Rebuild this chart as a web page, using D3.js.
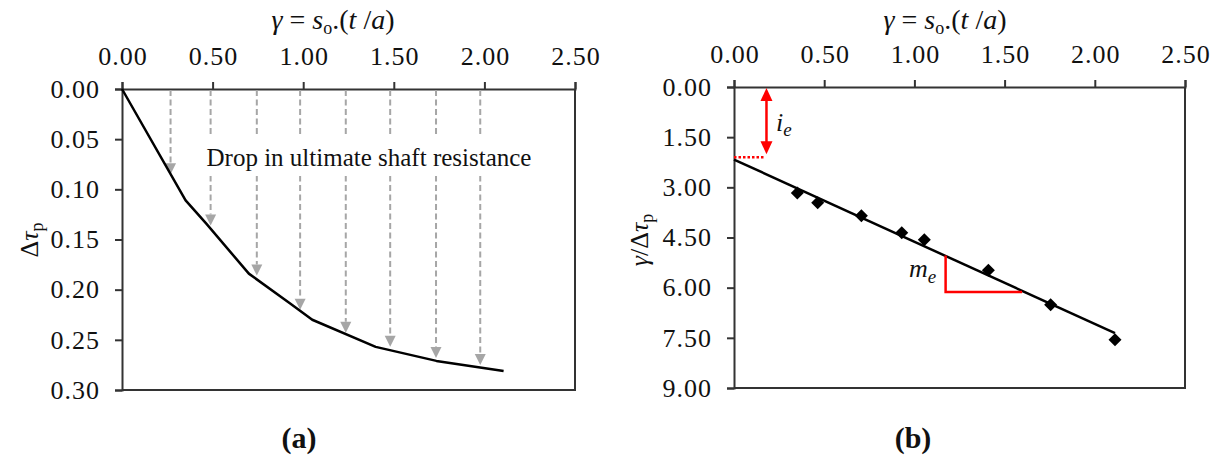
<!DOCTYPE html>
<html>
<head>
<meta charset="utf-8">
<script src="https://cdn.jsdelivr.net/npm/d3@7"></script>
<style>
  html, body { margin: 0; padding: 0; background: #fff; }
  svg { display: block; }
  text { font-family: "Liberation Serif", "Times New Roman", serif; fill: #111; }
</style>
</head>
<body>
<svg id="chart" width="1217" height="460"></svg>
<script>
// ---- data ----
// panel (a): normalised shaft resistance drop vs. gamma
const gammaCurve = [0, 0.351, 0.464, 0.70, 0.93, 1.05, 1.40, 1.735, 2.106];
const dTau       = [0, 0.111, 0.134, 0.184, 0.214, 0.230, 0.257, 0.271, 0.281];
// dashed drop arrows (start at the axis, end on the curve)
const arrowGamma = [0.268, 0.489, 0.744, 0.983, 1.235, 1.48, 1.733, 1.977];
const arrowEnd   = [0.085, 0.136, 0.186, 0.220, 0.243, 0.257, 0.268, 0.275];
// panel (b): gamma / dTau vs. gamma with linear fit
const gammaPts = [0.351, 0.464, 0.706, 0.93, 1.055, 1.41, 1.755, 2.112];
const ratioPts = [3.17, 3.46, 3.85, 4.36, 4.57, 5.48, 6.51, 7.56];
const fitGamma = [0, 2.112];
const fitRatio = [2.17, 7.36];
// intercept annotation (i_e) and slope triangle (m_e)
const ieGamma = 0.18, ieLevel = 2.10;
const slopeGamma = [1.173, 1.173, 1.597];
const slopeRatio = [5.04, 6.13, 6.13];
// tick values
const xTicks  = [0, 0.5, 1.0, 1.5, 2.0, 2.5];
const yTicksA = [0, 0.05, 0.10, 0.15, 0.20, 0.25, 0.30];
const yTicksB = [0, 1.5, 3.0, 4.5, 6.0, 7.5, 9.0];

const svg = d3.select("#chart");
const AX = "#333";
const SERIF = '"Liberation Serif", "Times New Roman", serif';

// ---- scales ----
const xA = d3.scaleLinear().domain([0, 2.5]).range([122, 575]);
const yA = d3.scaleLinear().domain([0, 0.30]).range([89, 390]);
const xB = d3.scaleLinear().domain([0, 2.5]).range([734, 1185]);
const yB = d3.scaleLinear().domain([0, 9]).range([87, 388]);

function styleAxis(g) {
  g.attr("font-family", SERIF);
  g.select(".domain").attr("stroke", AX).attr("stroke-width", 2);
  g.selectAll(".tick line").attr("stroke", AX).attr("stroke-width", 2);
  g.selectAll(".tick text")
    .attr("fill", "#111")
    .style("font-family", SERIF)
    .style("font-size", "26px")
    .style("letter-spacing", "1px");
}

function drawFrame(x, y, yTicks) {
  const [x0, x1] = x.range();
  const [y0, y1] = y.range();
  // right and bottom border
  svg.append("path")
    .attr("d", `M${x1},${y0}V${y1}H${x0}`)
    .attr("fill", "none").attr("stroke", AX).attr("stroke-width", 2);
  svg.append("g").attr("transform", `translate(0,${y0})`)
    .call(d3.axisTop(x).tickValues(xTicks).tickFormat(d3.format(".2f"))
      .tickSize(7).tickPadding(17).tickSizeOuter(7))
    .call(styleAxis)
    .selectAll(".tick text").attr("dx", "0.5px");
  svg.append("g").attr("transform", `translate(${x0},0)`)
    .call(d3.axisLeft(y).tickValues(yTicks).tickFormat(d3.format(".2f"))
      .tickSize(7).tickPadding(15).tickSizeOuter(7))
    .call(styleAxis);
}

function topTitle(cx) {
  const t = svg.append("text").attr("x", cx).attr("y", 29)
    .attr("text-anchor", "middle").style("font-size", "28px");
  t.append("tspan").style("font-style", "italic").text("γ");
  t.append("tspan").text(" = ");
  t.append("tspan").style("font-style", "italic").text("s");
  t.append("tspan").attr("dy", 5).style("font-size", "18px").text("o");
  t.append("tspan").attr("dy", -5).text(".(");
  t.append("tspan").style("font-style", "italic").text("t");
  t.append("tspan").text(" /");
  t.append("tspan").style("font-style", "italic").text("a");
  t.append("tspan").text(")");
}

// ================= panel (a) =================
drawFrame(xA, yA, yTicksA);
topTitle(333);

// dashed drop arrows
const arrows = arrowGamma.map((g, i) => ({ g, e: arrowEnd[i] }));
const head = 11, halfW = 5.5;
svg.append("g").selectAll("line").data(arrows).join("line")
  .attr("x1", d => xA(d.g)).attr("x2", d => xA(d.g))
  .attr("y1", yA(0) + 1).attr("y2", d => yA(d.e) - head)
  .attr("stroke", "#a6a6a6").attr("stroke-width", 2)
  .attr("stroke-dasharray", "6,3.5");
svg.append("g").selectAll("path").data(arrows).join("path")
  .attr("d", d => {
    const x = xA(d.g), y = yA(d.e);
    return `M${x},${y}L${x - halfW},${y - head}L${x + halfW},${y - head}Z`;
  })
  .attr("fill", "#a6a6a6");

// label with a white backing that interrupts the dashes
svg.append("rect").attr("x", 198).attr("y", 137).attr("width", 342).attr("height", 39)
  .attr("fill", "#fff");
svg.append("text").attr("x", 369).attr("y", 166).attr("text-anchor", "middle")
  .style("font-size", "25px").text("Drop in ultimate shaft resistance");

// curve
const curve = gammaCurve.map((g, i) => [g, dTau[i]]);
svg.append("path").datum(curve)
  .attr("d", d3.line().x(d => xA(d[0])).y(d => yA(d[1])))
  .attr("fill", "none").attr("stroke", "#000").attr("stroke-width", 2.5)
  .attr("stroke-linejoin", "round");

// y title
{
  const t = svg.append("text").attr("transform", "translate(38,240) rotate(-90)")
    .attr("text-anchor", "middle").style("font-size", "26px");
  t.append("tspan").text("Δ");
  t.append("tspan").style("font-style", "italic").text("τ");
  t.append("tspan").attr("dy", 5).style("font-size", "18px").text("p");
}

svg.append("text").attr("x", 299).attr("y", 448).attr("text-anchor", "middle")
  .style("font-size", "30px").style("font-weight", "bold").text("(a)");

// ================= panel (b) =================
drawFrame(xB, yB, yTicksB);
topTitle(945);

// fitted line
svg.append("line")
  .attr("x1", xB(fitGamma[0])).attr("y1", yB(fitRatio[0]))
  .attr("x2", xB(fitGamma[1])).attr("y2", yB(fitRatio[1]))
  .attr("stroke", "#000").attr("stroke-width", 2.5);

// data markers (diamonds)
const pts = gammaPts.map((g, i) => [g, ratioPts[i]]);
svg.append("g").selectAll("path").data(pts).join("path")
  .attr("transform", d => `translate(${xB(d[0])},${yB(d[1])})`)
  .attr("d", "M0,-6.5L6.5,0L0,6.5L-6.5,0Z")
  .attr("fill", "#000");

// intercept i_e: dotted level and double-headed arrow
const RED = "#ff0000";
svg.append("line")
  .attr("x1", xB(0)).attr("x2", xB(ieGamma) - 1)
  .attr("y1", yB(ieLevel)).attr("y2", yB(ieLevel))
  .attr("stroke", RED).attr("stroke-width", 2.5).attr("stroke-dasharray", "2.5,2");
{
  const ax = xB(ieGamma), ya = yB(0) + 1, yb = yB(ieLevel) - 3, h = 13, w = 6;
  svg.append("line").attr("x1", ax).attr("x2", ax)
    .attr("y1", ya + h - 1).attr("y2", yb - h + 1)
    .attr("stroke", RED).attr("stroke-width", 2.5);
  svg.append("path").attr("d", `M${ax},${ya}L${ax - w},${ya + h}L${ax + w},${ya + h}Z`).attr("fill", RED);
  svg.append("path").attr("d", `M${ax},${yb}L${ax - w},${yb - h}L${ax + w},${yb - h}Z`).attr("fill", RED);
}
{
  const t = svg.append("text").attr("x", 776).attr("y", 131).style("font-size", "26px");
  t.append("tspan").style("font-style", "italic").text("i");
  t.append("tspan").attr("dy", 5).style("font-size", "19px").style("font-style", "italic").text("e");
}

// slope triangle m_e
const tri = slopeGamma.map((g, i) => [g, slopeRatio[i]]);
svg.append("path").datum(tri)
  .attr("d", d3.line().x(d => xB(d[0])).y(d => yB(d[1])))
  .attr("fill", "none").attr("stroke", RED).attr("stroke-width", 2.5);
{
  const t = svg.append("text").attr("x", 909).attr("y", 277).style("font-size", "26px");
  t.append("tspan").style("font-style", "italic").text("m");
  t.append("tspan").attr("dy", 6).style("font-size", "19px").style("font-style", "italic").text("e");
}

// y title
{
  const t = svg.append("text").attr("transform", "translate(648,240) rotate(-90)")
    .attr("text-anchor", "middle").style("font-size", "26px");
  t.append("tspan").style("font-style", "italic").text("γ");
  t.append("tspan").text("/Δ");
  t.append("tspan").style("font-style", "italic").text("τ");
  t.append("tspan").attr("dy", 5).style("font-size", "18px").text("p");
}

svg.append("text").attr("x", 913).attr("y", 448).attr("text-anchor", "middle")
  .style("font-size", "30px").style("font-weight", "bold").text("(b)");
</script>
</body>
</html>
